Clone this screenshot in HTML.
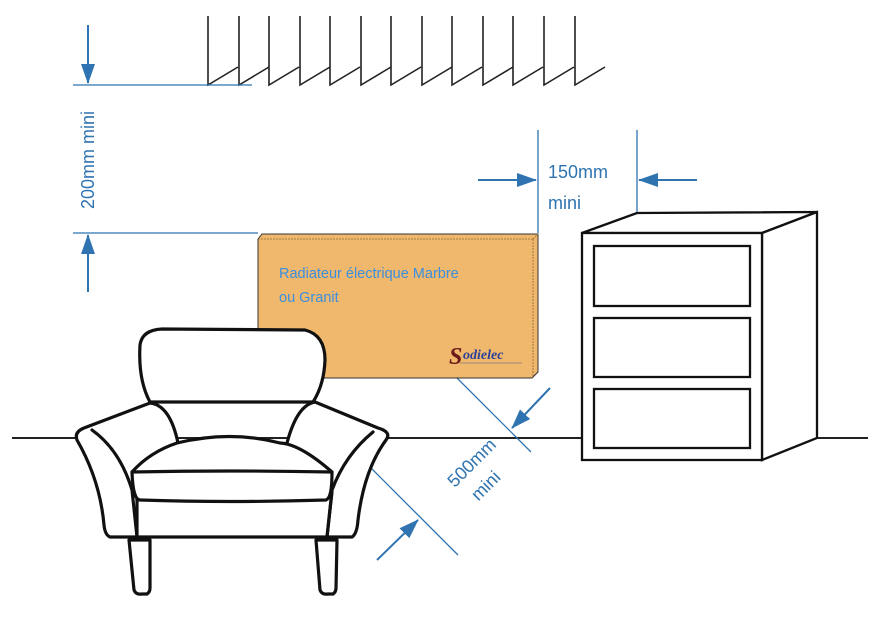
<!DOCTYPE html>
<html><head><meta charset="utf-8"><style>
html,body{margin:0;padding:0;background:#fff;width:875px;height:626px;overflow:hidden}
svg{display:block}
</style></head><body>
<svg width="875" height="626" viewBox="0 0 875 626" xmlns="http://www.w3.org/2000/svg">
<defs>
<marker id="ah" markerWidth="10" markerHeight="8" refX="9" refY="4" orient="auto" markerUnits="userSpaceOnUse">
<path d="M0,0 L10,4 L0,8 Z" fill="#2f74b0"/></marker>
<marker id="ah2" markerWidth="20" markerHeight="14" refX="19" refY="7" orient="auto" markerUnits="userSpaceOnUse">
<path d="M0,0 L20,7 L0,14 Z" fill="#2f74b0"/></marker>
</defs>
<!-- hatching -->
<g stroke="#222" stroke-width="1.6" fill="none">
<path d="M208,16V85L238,67M239,16V85L269,67M269,16V85L299,67M300,16V85L330,67M330,16V85L360,67M361,16V85L391,67M391,16V85L421,67M422,16V85L452,67M452,16V85L482,67M483,16V85L513,67M513,16V85L543,67M544,16V85L574,67M575,16V85L605,67"/>
</g>
<!-- floor -->
<g stroke="#222" stroke-width="2">
<line x1="12" y1="438" x2="582" y2="438"/>
<line x1="816" y1="438" x2="868" y2="438"/>
</g>
<!-- 200mm dim -->
<g stroke="#2f74b0" stroke-width="1.3" fill="none">
<line x1="73" y1="85" x2="252" y2="85"/>
<line x1="73" y1="233" x2="258" y2="233"/>
<line x1="88" y1="25" x2="88" y2="83" stroke-width="2" marker-end="url(#ah2)"/>
<line x1="88" y1="292" x2="88" y2="235" stroke-width="2" marker-end="url(#ah2)"/>
<line x1="538" y1="130" x2="538" y2="233"/>
<line x1="637" y1="130" x2="637" y2="213"/>
<line x1="478" y1="180" x2="536" y2="180" stroke-width="2" marker-end="url(#ah2)"/>
<line x1="697" y1="180" x2="639" y2="180" stroke-width="2" marker-end="url(#ah2)"/>
<line x1="455" y1="376" x2="531" y2="452"/>
<line x1="370" y1="467" x2="458" y2="555"/>
<line x1="550" y1="388" x2="512" y2="428" stroke-width="2" marker-end="url(#ah2)"/>
<line x1="377" y1="560" x2="418" y2="520" stroke-width="2" marker-end="url(#ah2)"/>
</g>
<g fill="#2f74b0" font-family="Liberation Sans, sans-serif" font-size="18">
<text transform="translate(94,160) rotate(-90)" text-anchor="middle">200mm mini</text>
<text x="548" y="178">150mm</text>
<text x="548" y="209">mini</text>
<text transform="translate(476,467) rotate(-45)" text-anchor="middle">500mm</text>
<text transform="translate(490,490) rotate(-45)" text-anchor="middle">mini</text>
</g>
<!-- radiator -->
<path d="M258,239 L262,234 L538,234 L538,372 L532,378 L258,378 Z" fill="#f0b86c" stroke="#333" stroke-width="1"/>
<path d="M533,239 L538,234 M533,239 V378 M258,239 H533" stroke="#8a6a3a" stroke-width="0.8" fill="none" stroke-dasharray="2,1"/>
<text x="279" y="278" fill="#3a8fe0" font-family="Liberation Sans, sans-serif" font-size="14.5">Radiateur électrique Marbre</text>
<text x="279" y="302" fill="#3a8fe0" font-family="Liberation Sans, sans-serif" font-size="14.5">ou Granit</text>
<text x="449" y="364" fill="#6a1a1a" font-family="Liberation Serif, serif" font-style="italic" font-weight="bold" font-size="24">S</text>
<text x="463" y="359" fill="#2a3f9a" font-family="Liberation Serif, serif" font-style="italic" font-weight="bold" font-size="14">odielec</text>
<line x1="460" y1="363" x2="522" y2="363" stroke="#9a8a7a" stroke-width="1"/>
<!-- dresser -->
<g stroke="#111" stroke-width="2.3" fill="#fff">
<path d="M582,233 L637,213 L817,212 L762,233 Z"/>
<path d="M762,233 L817,212 L817,438 L762,460 Z"/>
<rect x="582" y="233" width="180" height="227"/>
<rect x="594" y="246" width="156" height="60"/>
<rect x="594" y="318" width="156" height="59"/>
<rect x="594" y="389" width="156" height="59"/>
</g>
<!-- chair -->
<g stroke="#111" stroke-width="3.2" fill="#fff" stroke-linejoin="round" stroke-linecap="round">
<path d="M129,540 L134,590 Q136,595 142,594 L147,594 Q150,592 150,588 L150,540 Z"/>
<path d="M316,540 L320,590 Q322,595 328,594 L333,594 Q336,592 336,588 L337,540 Z"/>
<path d="M150,402 Q138,380 140,345 Q142,330 162,329 L305,330 Q325,335 325,360 Q324,385 313,402 Z"/>
<path d="M137,537 L110,537 Q105,535 104,525 Q100,480 77,440 Q74,432 84,428 L150,403 Q170,405 178,443 Z"/>
<path d="M327,537 L352,537 Q357,534 358,520 Q364,470 386,440 Q392,432 378,428 L315,402 Q297,405 287,443 Z"/>
<path d="M137,537 L137,492 L332,492 L327,537 Z"/>
<path d="M132,472 Q133,500 140,500 Q230,503 326,500 Q332,498 332,472 Q300,444 280,443 Q230,430 177,443 Q150,452 132,472 Z"/>
<path d="M132,472 Q230,470 332,472" fill="none"/>
<path d="M92,430 Q120,450 132,490 L137,537" fill="none"/>
<path d="M373,432 Q345,455 332,490 L327,537" fill="none"/>
</g>
</svg>
</body></html>
